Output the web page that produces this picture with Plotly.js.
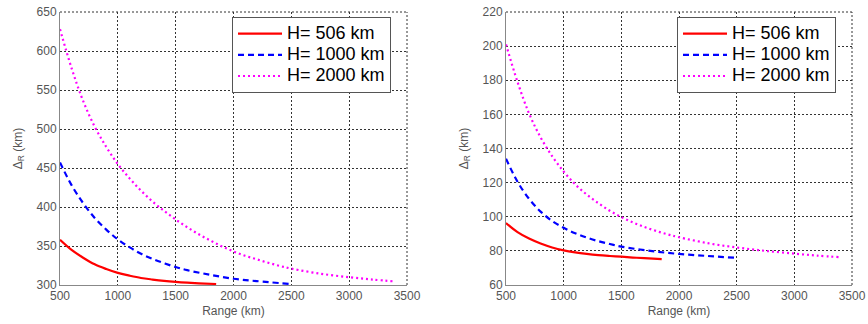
<!DOCTYPE html>
<html><head><meta charset="utf-8">
<script src="https://cdn.plot.ly/plotly-3.0.1.min.js"></script>
<style>html,body{margin:0;padding:0;background:#fff}#c{width:868px;height:324px}</style>
</head><body><div id="c"></div>
<script>
// Left panel data
const leftRedX = [500,600,700,800,900,1000,1100,1200,1300,1400,1500,1600,1700,1850];
const leftRedY = [358,345,335,326.5,320.5,315.5,312,309,307,305.3,304,303,302.2,301.3];
const leftBlueX = [500,600,700,800,900,1000,1100,1200,1300,1400,1500,1600,1800,2000,2200,2480];
const leftBlueY = [457,428,405,386,371,358.5,348.5,340,333.5,328,323,319,313,308,305,301.5];
const leftMagX = [500,600,700,800,900,1000,1100,1200,1300,1400,1500,1600,1700,1800,1900,2000,2100,2200,2300,2400,2500,2750,3000,3200,3400];
const leftMagY = [628,578,536,503,477,455,437,421,407,395,384,374,365,357,349.5,343,337.5,333,328.5,324.5,321,314.5,310,307,304.5];
// Right panel data
const rightRedX = [500,600,700,800,900,1000,1100,1200,1300,1400,1500,1600,1700,1850];
const rightRedY = [96.3,91,87.2,84.3,82,80.3,79.1,78.2,77.5,77,76.6,76.1,75.7,75.2];
const rightBlueX = [500,600,700,800,900,1000,1100,1200,1300,1400,1500,1750,2000,2250,2480];
const rightBlueY = [134,120.5,110.5,103,97.5,93.5,90.3,87.8,85.7,84,82.5,80,78.2,77,76];
const rightMagX = [500,600,700,800,900,1000,1100,1200,1300,1400,1500,1600,1700,1800,1900,2000,2250,2500,2750,3000,3200,3400];
const rightMagY = [201,179,160.5,146.5,135.5,126.5,119,113,108,103.5,99.8,96.7,94,91.7,89.7,88,84.5,82,80,78.4,77.2,76.3];
const seriesNames = ['H= 506 km','H= 1000 km','H= 2000 km'];
const xTicks = [500,1000,1500,2000,2500,3000,3500];
const leftYTicks = [300,350,400,450,500,550,600,650];
const rightYTicks = [60,80,100,120,140,160,180,200,220];

const styles = [
  {color:'#ff0000', width:2.2, dash:'solid'},
  {color:'#0000ff', width:2.2, dash:'6px,4px'},
  {color:'#ff00ff', width:2.2, dash:'2px,3px'}
];
function tr(x,y,i,xa,ya,leg){
  return {x:x,y:y,type:'scatter',mode:'lines',
    name:'<span style="font-size:18px">'+seriesNames[i]+'</span>',
    xaxis:xa,yaxis:ya,legend:leg,
    line:Object.assign({shape:'spline'},styles[i])};
}
const data = [
  tr(leftRedX,leftRedY,0,'x','y','legend'),
  tr(leftBlueX,leftBlueY,1,'x','y','legend'),
  tr(leftMagX,leftMagY,2,'x','y','legend'),
  tr(rightRedX,rightRedY,0,'x2','y2','legend2'),
  tr(rightBlueX,rightBlueY,1,'x2','y2','legend2'),
  tr(rightMagX,rightMagY,2,'x2','y2','legend2')
];
const W=868,H=324;
const FF = 'Liberation Sans, Arial, sans-serif';
const tickFont = {family:FF, size:12, color:'#555'};
const gridStyle = {showgrid:true, gridcolor:'#333', griddash:'2px,2px', gridwidth:1};
function xax(dom, anchor){
  return Object.assign({domain:dom, anchor:anchor, range:[500,3500], tickvals:xTicks, ticktext:xTicks.map(String),
    showline:true, linecolor:'#888', linewidth:1, mirror:false, zeroline:false,
    ticks:'', tickfont:tickFont,
    title:{text:'Range (km)', font:{family:FF, size:12, color:'#555'}, standoff:4}}, gridStyle);
}
function yax(dom, anchor, rng, tv){
  return Object.assign({domain:dom, anchor:anchor, range:rng, tickvals:tv, ticktext:tv.map(String),
    showline:true, linecolor:'#888', linewidth:1, zeroline:false,
    ticks:'', tickfont:tickFont,
    title:{text:'Δ<sub>R</sub> (km)', font:{family:FF, size:12, color:'#555'}, standoff:11}}, gridStyle);
}
const yDom = [(H-285)/H, (H-12)/H];
const legFont = {family:FF, size:14, color:'#000'};
function leg(x){
  return {x:x/W, xanchor:'left', y:(H-17)/H, yanchor:'top', bgcolor:'#fff', bordercolor:'#555', borderwidth:1,
    font:legFont, tracegroupgap:0, itemwidth:44};
}
const layout = {
  width:W, height:H, margin:{l:0,r:0,t:0,b:0}, paper_bgcolor:'#fff', plot_bgcolor:'#fff',
  showlegend:true,
  xaxis: xax([60/W, 407/W],'y'),
  yaxis: yax(yDom,'x',[300,650],leftYTicks),
  xaxis2: xax([506/W, 852/W],'y2'),
  yaxis2: yax(yDom,'x2',[60,220],rightYTicks),
  legend: leg(232),
  legend2: leg(677),
  shapes:[
    {type:'line',xref:'x domain',yref:'y domain',x0:1,x1:1,y0:0,y1:1,line:{color:'#333',width:1,dash:'2px,2px'}},
    {type:'line',xref:'x domain',yref:'y domain',x0:0,x1:1,y0:1,y1:1,line:{color:'#333',width:1,dash:'2px,2px'}},
    {type:'line',xref:'x2 domain',yref:'y2 domain',x0:1,x1:1,y0:0,y1:1,line:{color:'#333',width:1,dash:'2px,2px'}},
    {type:'line',xref:'x2 domain',yref:'y2 domain',x0:0,x1:1,y0:1,y1:1,line:{color:'#333',width:1,dash:'2px,2px'}}
  ]
};
Plotly.newPlot('c', data, layout, {staticPlot:true, displayModeBar:false});
</script></body></html>
